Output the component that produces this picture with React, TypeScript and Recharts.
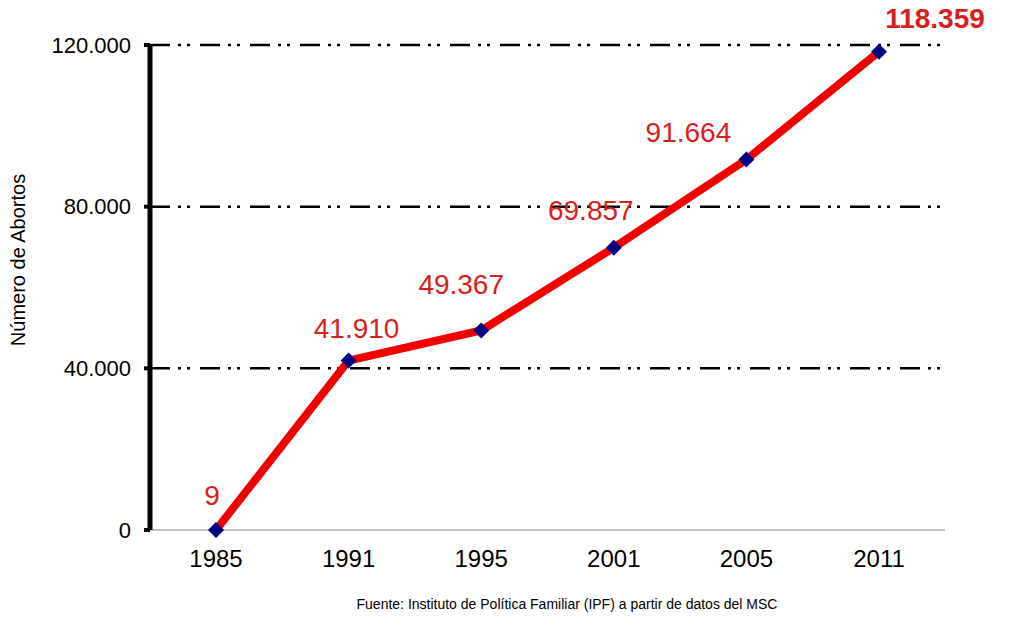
import React from "react";
import { LineChart, Line, XAxis, YAxis, CartesianGrid } from "recharts";

const years = ["1985", "1991", "1995", "2001", "2005", "2011"];
const abortos = [9, 41910, 49367, 69857, 91664, 118359];
const yTicks = [0, 40000, 80000, 120000];
const gridValues = [40000, 80000, 120000];

const data = years.map((y, i) => ({ year: y, value: abortos[i] }));

const fmt = (v: number) => v.toLocaleString("de-DE");

const FONT = '"Liberation Sans", Arial, sans-serif';

// label placement (layout only)
const labelShift = [
  [-4, -35],
  [8, -33],
  [-20, -47],
  [-23, -38],
  [-58, -28],
  [56, -34],
];

const Diamond = (props: any) => {
  const { cx, cy } = props;
  if (cx == null || cy == null) return null;
  const r = 8;
  return (
    <polygon
      points={`${cx},${cy - r} ${cx + r},${cy} ${cx},${cy + r} ${cx - r},${cy}`}
      fill="#000080"
    />
  );
};

const ValueLabel = (props: any) => {
  const { x, y, index, value } = props;
  const [dx, dy] = labelShift[index] || [0, -30];
  const last = index === abortos.length - 1;
  return (
    <text
      x={x + dx}
      y={y + dy}
      dy="0.36em"
      textAnchor="middle"
      fill="#d81e1e"
      fontSize={28}
      fontWeight={last ? "bold" : "normal"}
      fontFamily={FONT}
    >
      {fmt(value)}
    </text>
  );
};

export default function App() {
  return (
    <div style={{ position: "absolute", left: 0, top: 0, width: 1024, height: 619, background: "#fff" }}>
      <LineChart
        width={1024}
        height={619}
        data={data}
        margin={{ top: 45, right: 79, left: 0, bottom: 0 }}
      >
        <CartesianGrid
          vertical={false}
          horizontalValues={gridValues}
          stroke="#000"
          strokeWidth={2.5}
          strokeDasharray="20 8 3 6 3 10"
        />
        <XAxis
          dataKey="year"
          height={89}
          padding={{ left: 66, right: 66 }}
          axisLine={{ stroke: "#888", strokeWidth: 1 }}
          tickLine={false}
          tickSize={0}
          tickMargin={20}
          tick={{ fill: "#000", fontSize: 24, fontFamily: FONT }}
        />
        <YAxis
          width={150}
          domain={[0, 120000]}
          ticks={yTicks}
          tickFormatter={fmt}
          axisLine={{ stroke: "#000", strokeWidth: 5 }}
          tickLine={{ stroke: "#000", strokeWidth: 4 }}
          tickSize={6}
          tickMargin={13}
          tick={{ fill: "#000", fontSize: 22, fontFamily: FONT }}
        />
        <text
          x={18}
          y={260}
          transform="rotate(-90 18 260)"
          dy="0.35em"
          textAnchor="middle"
          fontSize={20}
          fontFamily={FONT}
          fill="#000"
        >
          Número de Abortos
        </text>
        <Line
          type="linear"
          dataKey="value"
          stroke="#f20000"
          strokeWidth={8}
          dot={<Diamond />}
          activeDot={false}
          label={<ValueLabel />}
          isAnimationActive={false}
        />
        <text
          x={567}
          y={604}
          dy="0.35em"
          textAnchor="middle"
          fontSize={14}
          fontFamily={FONT}
          fill="#000"
        >
          Fuente: Instituto de Política Familiar (IPF) a partir de datos del MSC
        </text>
      </LineChart>
    </div>
  );
}
